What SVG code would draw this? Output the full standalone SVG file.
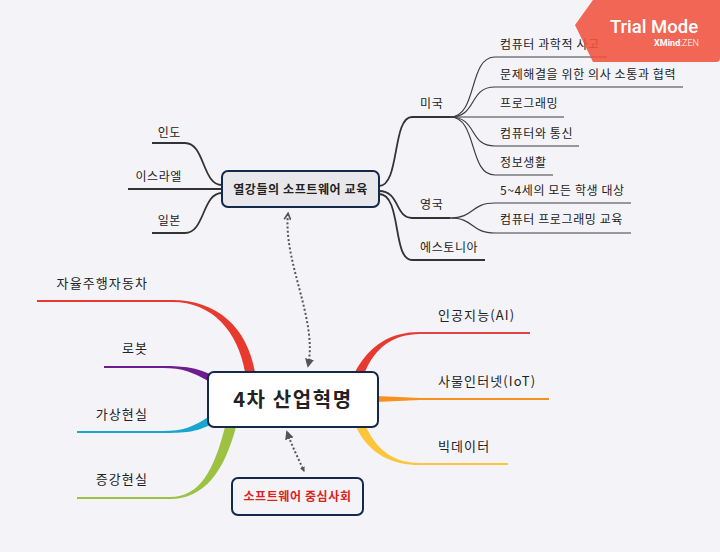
<svg xmlns="http://www.w3.org/2000/svg" width="720" height="552" viewBox="0 0 720 552">
<defs>
<style>
.t{font-family:"Noto Sans CJK KR","Noto Sans",sans-serif;fill:#222;}
.s{font-size:12px;letter-spacing:0.6px;}
.m{font-size:13px;letter-spacing:1.1px;}
.thin{fill:none;stroke:#3c3c3c;stroke-width:1.2;}
.thk{fill:none;stroke:#333;stroke-width:1.8;}
.dot{fill:none;stroke:#555;stroke-width:2;stroke-dasharray:2,2.2;}
.node{stroke:#14284b;stroke-width:2;}
</style>
<marker id="arrF" viewBox="0 0 10 10" refX="8" refY="5" markerWidth="5" markerHeight="5" orient="auto-start-reverse" markerUnits="userSpaceOnUse">
<path d="M0,0 L10,5 L0,10 Z" fill="#555"/>
</marker>
<marker id="arrF2" viewBox="0 0 10 10" refX="8" refY="5" markerWidth="9" markerHeight="9" orient="auto-start-reverse" markerUnits="userSpaceOnUse">
<path d="M0,0 L10,5 L0,10 Z" fill="#555"/>
</marker>
<marker id="arrV" viewBox="0 0 10 10" refX="8" refY="5" markerWidth="8" markerHeight="8" orient="auto-start-reverse" markerUnits="userSpaceOnUse">
<path d="M1,1 L9,5 L1,9" fill="none" stroke="#555" stroke-width="2"/>
</marker>
</defs>
<rect width="720" height="552" fill="#F4F4F8"/>

<g id="connectors">
<path class="thk" d="M222,185 C202,185 205,143 185,143 L152,143"/>
<path class="thk" d="M222,189 L128,189"/>
<path class="thk" d="M222,193 C202,193 205,233 185,233 L152,233"/>
<path class="thk" d="M379,186 C400,186 392,117 412,117 L450,117"/>
<path class="thk" d="M379,191 C400,191 395,218 412,218 L450,218"/>
<path class="thk" d="M379,194 C402,194 392,260 412,260 L485,260"/>
<path class="thin" d="M450,117 C478,117 468,57 495,57 L607,57"/>
<path class="thin" d="M450,117 C478,117 468,87 495,87 L683,87"/>
<path class="thin" d="M450,117 L564,117"/>
<path class="thin" d="M450,117 C478,117 468,146 495,146 L579,146"/>
<path class="thin" d="M450,117 C478,117 468,175 495,175 L553,175"/>
<path class="thin" d="M450,218 C475,218 470,203 495,203 L631,203"/>
<path class="thin" d="M450,218 C475,218 470,233 495,233 L631,233"/>

<path d="M255,372 C247,327 217,300 172,300 L172,302 C213,302 238,332 245,372 Z" fill="#E8392F"/>
<path d="M37,301 L175,301" stroke="#E8392F" stroke-width="2"/>
<path d="M210,374 C196,368 186,366 163,366 L163,368 C183,368 192,372 210,382 Z" fill="#6C1D8E"/>
<path d="M104,367 L165,367" stroke="#6C1D8E" stroke-width="2"/>
<path d="M210,416 C193,427 183,431 163,431 L163,433 C185,433 196,432 210,425 Z" fill="#18A6D0"/>
<path d="M77,432 L165,432" stroke="#18A6D0" stroke-width="2"/>
<path d="M225,427 C214,470 200,497 170,497 L170,499 C204,499 224,472 236,427 Z" fill="#9DC243"/>
<path d="M77,498 L172,498" stroke="#9DC243" stroke-width="2"/>
<path d="M355,372 C370,345 390,332 420,332 L420,334 C393,334 375,348 365,372 Z" fill="#E8392F"/>
<path d="M418,333 L530,333" stroke="#E04444" stroke-width="2"/>
<path d="M376,396 L420,398 L420,400 L376,402 Z" fill="#F7901E"/>
<path d="M418,399 L549,399" stroke="#F7901E" stroke-width="1.8"/>
<path d="M356,427 C370,455 392,465 420,465 L420,463 C396,463 378,452 366,427 Z" fill="#FDC63A"/>
<path d="M418,464 L508,464" stroke="#FDC63A" stroke-width="2"/>

<path class="dot" d="M288,214 C283,262 318,320 308,366" marker-start="url(#arrV)" marker-end="url(#arrF2)"/>
<path class="dot" d="M287,432 C292,446 298,458 304,471" marker-start="url(#arrF2)" marker-end="url(#arrF)"/>
</g>

<g id="node-center">
<rect class="node" x="208" y="372" width="170" height="55" rx="6" fill="#FFFFFF"/>
<text class="t" x="293" y="407" font-size="20" font-weight="700" text-anchor="middle" letter-spacing="1.6">4차 산업혁명</text>
</g>
<g id="node-powers">
<rect class="node" x="222" y="171" width="157" height="36" rx="6" fill="#E8E8EC"/>
<text class="t s" x="300.5" y="193.5" font-weight="700" text-anchor="middle">열강들의 소프트웨어 교육</text>
</g>
<g id="node-sw">
<rect class="node" x="232" y="478" width="131" height="37" rx="6" fill="#F4F4F8"/>
<text class="t s" x="297.5" y="500.5" font-weight="700" text-anchor="middle" style="fill:#E0201C">소프트웨어 중심사회</text>
</g>

<g id="labels-powers">
<text class="t s" x="181" y="137" text-anchor="end">인도</text>
<text class="t s" x="182" y="181" text-anchor="end">이스라엘</text>
<text class="t s" x="181" y="225" text-anchor="end">일본</text>
<text class="t s" x="420" y="108">미국</text>
<text class="t s" x="420" y="209">영국</text>
<text class="t s" x="420" y="252">에스토니아</text>
<text class="t s" x="500" y="49">컴퓨터 과학적 사고</text>
<text class="t s" x="500" y="79">문제해결을 위한 의사 소통과 협력</text>
<text class="t s" x="500" y="108">프로그래밍</text>
<text class="t s" x="500" y="138">컴퓨터와 통신</text>
<text class="t s" x="500" y="167">정보생활</text>
<text class="t s" x="500" y="195">5~4세의 모든 학생 대상</text>
<text class="t s" x="500" y="224">컴퓨터 프로그래밍 교육</text>
</g>

<g id="labels-center">
<text class="t m" x="148" y="288" text-anchor="end">자율주행자동차</text>
<text class="t m" x="148" y="353" text-anchor="end">로봇</text>
<text class="t m" x="148" y="419" text-anchor="end">가상현실</text>
<text class="t m" x="148" y="484" text-anchor="end">증강현실</text>
<text class="t m" x="438" y="320" letter-spacing="0.7">인공지능(AI)</text>
<text class="t m" x="438" y="386" letter-spacing="0.7">사물인터넷(IoT)</text>
<text class="t m" x="438" y="451">빅데이터</text>
</g>

<g id="badge">
<path d="M593,0 H720 V58 Q720,62 716,62 H593 L575,25 Z" fill="#F0523C" fill-opacity="0.88"/>
<text x="654" y="33" font-family="Roboto,'Open Sans',sans-serif" font-size="18.5" font-weight="500" fill="#FFFFFF" text-anchor="middle">Trial Mode</text>
<text x="699" y="46" font-family="Roboto,'Open Sans',sans-serif" font-size="9" fill="#FFFFFF" text-anchor="end"><tspan font-weight="700">XMind</tspan><tspan font-weight="300">:ZEN</tspan></text>
</g>
</svg>
